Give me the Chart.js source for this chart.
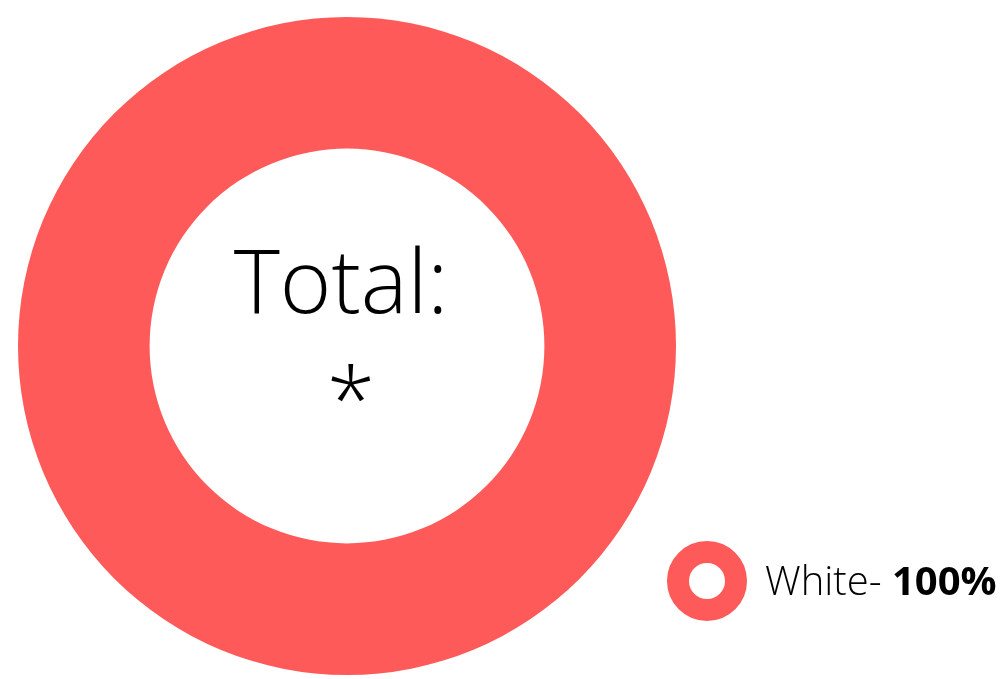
<!DOCTYPE html>
<html>
<head>
<meta charset="utf-8">
<script src="https://cdn.jsdelivr.net/npm/chart.js@4/dist/chart.umd.min.js"></script>
<style>
html,body{margin:0;padding:0;background:#fff;}
#wrap{width:1002px;height:679px;position:relative;}
</style>
</head>
<body>
<div id="wrap"><canvas id="c" width="1002" height="679"></canvas></div>
<script>
const categories = ["White"];
const values = [100];
const colors = ["#FF5A5A"];
const centerLines = ["Total:", "*"];
const FONT = "'Open Sans', sans-serif";

const centerText = {
  id: 'centerText',
  afterDraw(chart) {
    const ctx = chart.ctx;
    const meta = chart.getDatasetMeta(0);
    const arc = meta.data[0];
    const cx = arc.x, cy = arc.y;
    ctx.save();
    ctx.fillStyle = '#000';
    ctx.textAlign = 'center';
    ctx.textBaseline = 'alphabetic';
    ctx.font = '300 88px ' + FONT;
    ctx.fillText(centerLines[0], cx - 6, cy - 33);
    ctx.fillText(centerLines[1], cx + 4, cy + 85);
    ctx.restore();
  }
};

const ringLegend = {
  id: 'ringLegend',
  afterDraw(chart) {
    const ctx = chart.ctx;
    const total = values.reduce((a, b) => a + b, 0);
    ctx.save();
    categories.forEach((cat, i) => {
      const ix = 707, iy = 581 + i * 90;
      ctx.beginPath();
      ctx.arc(ix, iy, 29, 0, Math.PI * 2);
      ctx.lineWidth = 22;
      ctx.strokeStyle = colors[i];
      ctx.stroke();
      ctx.fillStyle = '#000';
      ctx.textAlign = 'left';
      ctx.textBaseline = 'alphabetic';
      ctx.font = '300 40px ' + FONT;
      const label = cat + '- ';
      ctx.fillText(label, 765, iy + 14);
      const w = ctx.measureText(label).width;
      ctx.font = '700 40px ' + FONT;
      ctx.fillText(Math.round(values[i] / total * 100) + '%', 765 + w, iy + 14);
    });
    ctx.restore();
  }
};

new Chart(document.getElementById('c'), {
  type: 'doughnut',
  data: {
    labels: categories,
    datasets: [{
      data: values,
      backgroundColor: colors,
      borderWidth: 0,
      hoverOffset: 0
    }]
  },
  options: {
    responsive: false,
    animation: false,
    cutout: '60%',
    layout: { padding: { left: 18, top: 17, right: 326, bottom: 4 } },
    plugins: {
      legend: { display: false },
      tooltip: { enabled: false }
    }
  },
  plugins: [centerText, ringLegend]
});
</script>
</body>
</html>
